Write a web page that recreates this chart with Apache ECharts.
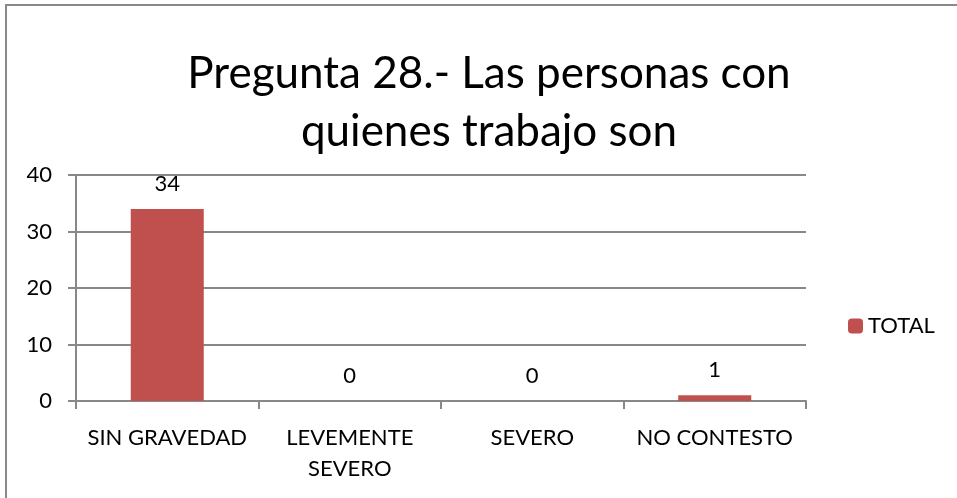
<!DOCTYPE html>
<html lang="es">
<head>
    <meta charset="UTF-8">
    <title>Pregunta 28</title>
    <script src="https://cdn.jsdelivr.net/npm/echarts@6/dist/echarts.min.js"></script>
    <style>
        html, body { margin: 0; padding: 0; background: #fff; }
        #main { width: 957px; height: 498px; }
    </style>
</head>
<body>
    <div id="main"></div>
    <script>
        // datos del grafico
        var categorias = ['SIN GRAVEDAD', 'LEVEMENTE\nSEVERO', 'SEVERO', 'NO CONTESTO'];
        var totales = [34, 0, 0, 1];
        var serieNombre = 'TOTAL';
        var tituloTexto = 'Pregunta 28.- Las personas con\nquienes trabajo son';

        var fuente = 'Lato, "Open Sans", sans-serif';
        var myChart = echarts.init(document.getElementById('main'));

        var option = {
            backgroundColor: '#fff',
            animation: false,
            title: {
                text: tituloTexto,
                left: 484,
                top: 40,
                textAlign: 'center',
                textStyle: {
                    fontFamily: fuente,
                    fontSize: 44,
                    fontWeight: 'normal',
                    color: '#000',
                    lineHeight: 58
                }
            },
            legend: {
                data: [serieNombre],
                left: 843,
                top: 310,
                itemWidth: 15,
                itemHeight: 15,
                itemGap: 6,
                textStyle: { fontFamily: fuente, fontSize: 22, color: '#000' }
            },
            grid: { left: 76, right: 151, top: 175, bottom: 97 },
            xAxis: {
                type: 'category',
                data: categorias,
                axisLine: { lineStyle: { color: '#888', width: 2 } },
                axisTick: { show: true, length: 8, lineStyle: { color: '#888', width: 2 } },
                axisLabel: {
                    interval: 0,
                    fontFamily: fuente, fontSize: 22, color: '#000',
                    margin: 21, lineHeight: 31
                }
            },
            yAxis: {
                type: 'value',
                min: 0,
                max: 40,
                interval: 10,
                axisLine: { show: true, lineStyle: { color: '#888', width: 2 } },
                axisTick: { show: true, length: 8, lineStyle: { color: '#888', width: 2 } },
                splitLine: { lineStyle: { color: '#888', width: 2 } },
                axisLabel: { fontFamily: fuente, fontSize: 22, color: '#000', margin: 24 }
            },
            series: [{
                name: serieNombre,
                type: 'bar',
                data: totales,
                barWidth: '40%',
                itemStyle: { color: '#C0504D' },
                label: {
                    show: true,
                    position: 'top',
                    distance: 14,
                    fontFamily: fuente,
                    fontSize: 22,
                    color: '#000'
                }
            }],
            graphic: [{
                type: 'rect',
                shape: { x: 6, y: 5, width: 1200, height: 1000 },
                style: { fill: null, stroke: '#898989', lineWidth: 2 },
                silent: true
            }]
        };
        myChart.setOption(option);
    </script>
</body>
</html>
